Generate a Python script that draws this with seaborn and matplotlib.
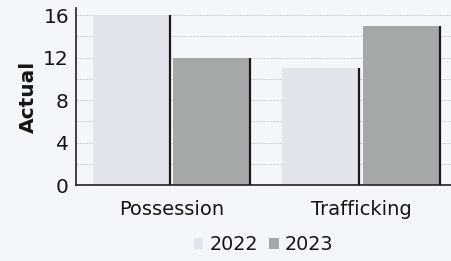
import matplotlib
matplotlib.use('Agg')
import matplotlib.pyplot as plt
import numpy as np
import pandas as pd
import seaborn as sns

# chart data
categories = ['Possession', 'Trafficking']
years = ['2022', '2023']
values_2022 = [16, 11]
values_2023 = [12, 15]
ytick_vals = [0, 4, 8, 12, 16]

df = pd.DataFrame({
    'offence': categories * 2,
    'year': [years[0]] * len(categories) + [years[1]] * len(categories),
    'actual': values_2022 + values_2023,
})

bg = '#f4f7f9'
palette = {'2022': '#e1e4ea', '2023': '#a4a8a9'}

sns.set_style('white')
plt.rcParams['font.family'] = ['DejaVu Sans']

fig = plt.figure(figsize=(4.52, 2.61), dpi=100)
fig.patch.set_facecolor(bg)
ax = fig.add_axes([0.168, 0.291, 0.832, 0.678])
ax.set_facecolor(bg)

sns.barplot(data=df, x='offence', y='actual', hue='year', order=categories,
            hue_order=years, palette=palette, width=0.85, gap=0.04,
            saturation=1, linewidth=0, ax=ax, zorder=2)

# dark right-hand edge on each bar (3D look)
for p in ax.patches:
    if p.get_height() > 0:
        x1 = p.get_x() + p.get_width()
        ax.plot([x1, x1], [0, p.get_height()], color='#1a1a1a', lw=1.6,
                zorder=3, solid_capstyle='butt')

ax.set_xlim(-0.504, 1.48)
ax.set_ylim(0, 16.66)
ax.set_yticks(ytick_vals)
ax.set_yticks([2, 6, 10, 14], minor=True)
ax.grid(axis='y', which='both', color='#cccccc', lw=0.6, ls=(0, (3, 1)), zorder=0)
ax.set_axisbelow(True)

ax.tick_params(axis='y', which='both', length=0, labelsize=14.5, pad=5, colors='#151515')
ax.tick_params(axis='x', length=0, labelsize=14, pad=11, colors='#151515')

for s in ['top', 'right']:
    ax.spines[s].set_visible(False)
for s in ['left', 'bottom']:
    ax.spines[s].set_color('#222222')
    ax.spines[s].set_linewidth(1.2)

ax.set_xlabel('')
ax.set_ylabel('Actual', fontsize=14.5, fontweight='bold', labelpad=4, color='#151515')

handles, labels = ax.get_legend_handles_labels()
ax.legend_.remove()
fig.legend(handles, labels, loc='center', bbox_to_anchor=(0.583, 0.062), ncol=2,
           frameon=False, fontsize=13.8, handlelength=0.5, handleheight=0.5,
           handletextpad=0.3, columnspacing=0.6, labelcolor='#151515')

fig.savefig('out.png', dpi=100, facecolor=bg)
